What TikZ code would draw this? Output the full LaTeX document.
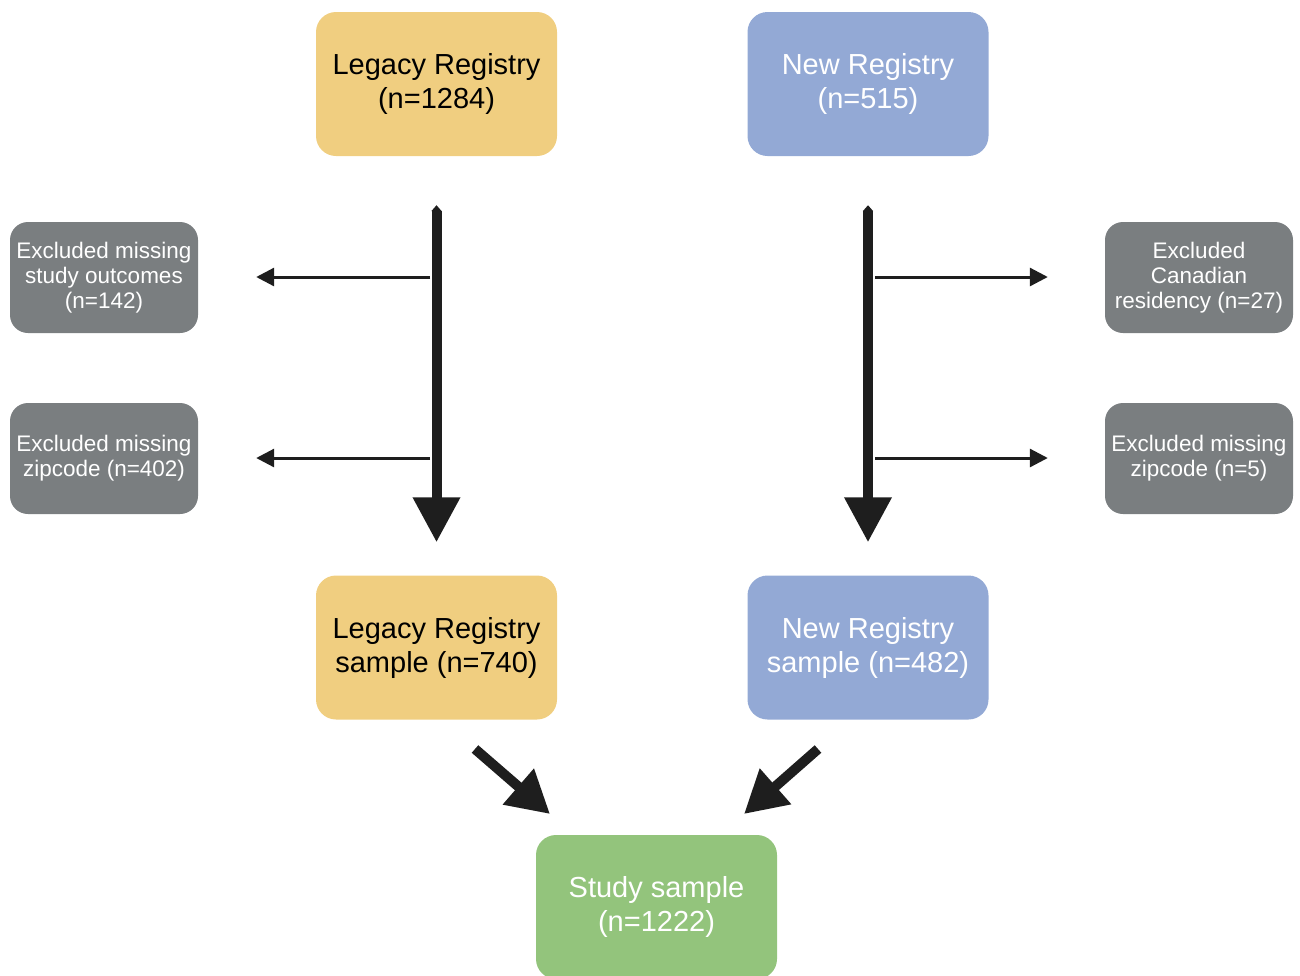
\documentclass[tikz,border=0pt]{standalone}
\usepackage{fontspec}
\setmainfont{Liberation Sans}
\usetikzlibrary{arrows.meta}
\definecolor{cyellow}{RGB}{240,206,128}
\definecolor{cblue}{RGB}{147,169,213}
\definecolor{cgray}{RGB}{122,126,128}
\definecolor{cgreen}{RGB}{147,196,124}
\definecolor{carrow}{RGB}{30,30,30}
\tikzset{
  mainbox/.style={rounded corners=20pt, minimum width=241pt, minimum height=144pt, inner sep=0pt, align=center, font=\fontsize{29}{34}\selectfont},
  graybox/.style={rounded corners=18pt, fill=cgray, text=white, minimum width=188pt, minimum height=111pt, inner sep=0pt, align=center, font=\fontsize{22.5}{25}\selectfont},
  bigarrow/.style={draw=carrow, line width=10pt, {Triangle[width=10pt,length=6pt]}-{Triangle[width=45pt,length=45pt]}},
  diagarrow/.style={draw=carrow, line width=10pt, -{Triangle[width=45pt,length=42pt]}},
  thinarrow/.style={draw=carrow, line width=3pt, -{Triangle[width=18pt,length=18pt]}}
}
\begin{document}
\begin{tikzpicture}[x=1pt,y=-1pt]
\useasboundingbox (0,0) rectangle (1300,975);
\clip (0,0) rectangle (1300,975);
% main boxes
\node[mainbox, fill=cyellow, text=black] (leg) at (436.5,84) {Legacy Registry\\(n=1284)};
\node[mainbox, fill=cblue, text=white] (new) at (868,84) {New Registry\\(n=515)};
\node[mainbox, fill=cyellow, text=black] (legs) at (436.5,647.5) {Legacy Registry\\sample (n=740)};
\node[mainbox, fill=cblue, text=white] (news) at (868,647.5) {New Registry\\sample (n=482)};
\node[mainbox, fill=cgreen, text=white] (study) at (656.5,907) {Study sample\\(n=1222)};
% gray boxes
\node[graybox] (ex1) at (104,277.5) {Excluded missing\\study outcomes\\(n=142)};
\node[graybox] (ex2) at (104,458.5) {Excluded missing\\zipcode (n=402)};
\node[graybox] (ex3) at (1199,277.5) {Excluded\\Canadian\\residency (n=27)};
\node[graybox] (ex4) at (1199,458.5) {Excluded missing\\zipcode (n=5)};
% vertical arrows
\draw[bigarrow, shorten <=49pt, shorten >=33pt] (leg.south) -- (legs.north);
\draw[bigarrow, shorten <=49pt, shorten >=33pt] (new.south) -- (news.north);
% branch coordinates
\coordinate (l1) at (430,277);
\coordinate (l2) at (430,458);
\coordinate (r1) at (875,277);
\coordinate (r2) at (875,458);
\draw[thinarrow, shorten >=58pt] (l1) -- (ex1.east |- l1);
\draw[thinarrow, shorten >=58pt] (l2) -- (ex2.east |- l2);
\draw[thinarrow, shorten >=57pt] (r1) -- (ex3.west |- r1);
\draw[thinarrow, shorten >=57pt] (r2) -- (ex4.west |- r2);
% diagonal arrows
\coordinate (d1s) at (475,749);
\coordinate (d1e) at (550,814);
\coordinate (d2s) at (818,749);
\coordinate (d2e) at (744,814);
\draw[diagarrow] (d1s) -- (d1e);
\draw[diagarrow] (d2s) -- (d2e);
\end{tikzpicture}
\end{document}
